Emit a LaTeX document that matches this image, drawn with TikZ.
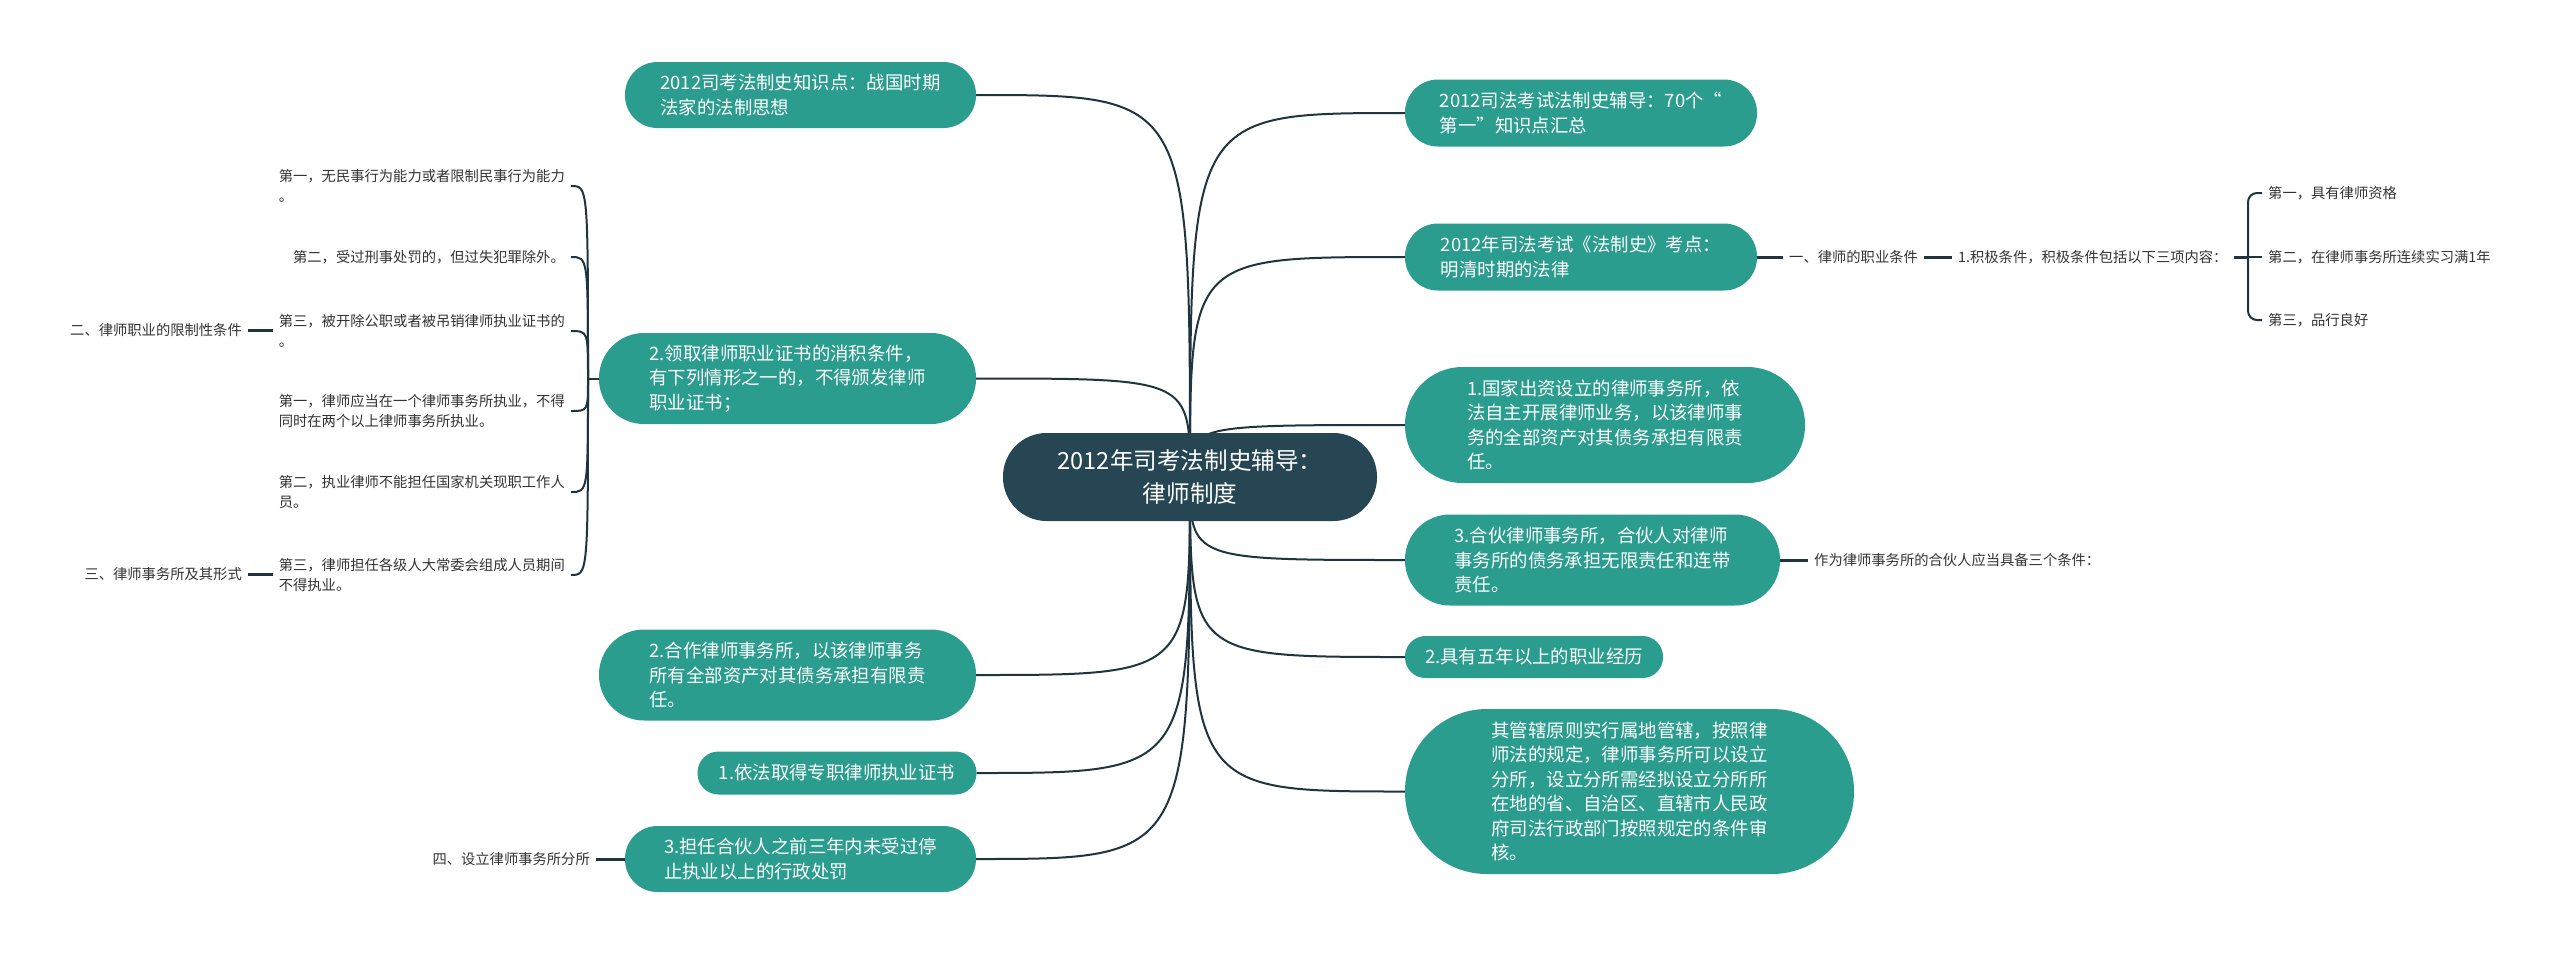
\documentclass[tikz,border=0pt]{standalone}
\usepackage{fontspec}
\setmainfont{Noto Sans CJK SC}
\usetikzlibrary{backgrounds}
\definecolor{teal1}{HTML}{2A9D8F}
\definecolor{dark1}{HTML}{264653}
\definecolor{line1}{HTML}{1E3540}
\definecolor{txt1}{HTML}{333333}
\begin{document}
\begin{tikzpicture}[x=1pt,y=-1pt,
  big/.style={fill=teal1,text=white,inner sep=0pt,align=left,font=\fontsize{18.4}{24.5}\selectfont},
  pill/.style n args={3}{minimum width=#1pt,minimum height=#2pt,rounded corners=#3pt},
  small/.style={text=txt1,inner xsep=6pt,inner ysep=0pt,align=left,font=\fontsize{14.3}{20}\selectfont},
  conn/.style={draw=line1,line width=2pt},
  stub/.style={draw=line1,line width=3pt}]
\useasboundingbox (0,0) rectangle (2560,954);

% central
\node[big,pill={374}{88}{43.5},fill=dark1,align=center,font=\fontsize{23.6}{33}\selectfont] (C) at (1190,477) {2012年司考法制史辅导：\\律师制度};

% left main nodes
\node[big,pill={351}{66}{32.5}] (L1) at (800.5,95) {2012司考法制史知识点：战国时期\\法家的法制思想};
\node[big,pill={377}{91}{45}] (L2) at (787.5,378.5) {2.领取律师职业证书的消积条件，\\有下列情形之一的，不得颁发律师\\职业证书；};
\node[big,pill={377}{91}{45}] (L3) at (787.5,675) {2.合作律师事务所，以该律师事务\\所有全部资产对其债务承担有限责\\任。};
\node[big,pill={279}{43}{21}] (L4) at (837,773) {1.依法取得专职律师执业证书};
\node[big,pill={351}{66}{32.5}] (L5) at (800.5,859) {3.担任合伙人之前三年内未受过停\\止执业以上的行政处罚};

% right main nodes
\node[big,pill={352}{67}{33}] (R1) at (1581,113) {2012司法考试法制史辅导：70个“\\第一”知识点汇总};
\node[big,pill={352}{67}{33}] (R2) at (1581,257) {2012年司法考试《法制史》考点：\\明清时期的法律};
\node[big,pill={400}{116}{57.5}] (R3) at (1605,425) {1.国家出资设立的律师事务所，依\\法自主开展律师业务，以该律师事\\务的全部资产对其债务承担有限责\\任。};
\node[big,pill={375}{91}{45}] (R4) at (1592.5,560) {3.合伙律师事务所，合伙人对律师\\事务所的债务承担无限责任和连带\\责任。};
\node[big,pill={258}{42}{20.5}] (R5) at (1534,657) {2.具有五年以上的职业经历};
\node[big,pill={449}{165}{82}] (R6) at (1629.5,791.5) {其管辖原则实行属地管辖，按照律\\师法的规定，律师事务所可以设立\\分所，设立分所需经拟设立分所所\\在地的省、自治区、直辖市人民政\\府司法行政部门按照规定的条件审\\核。};

% left small texts
\node[small,anchor=east] (a1) at (571,186) {第一，无民事行为能力或者限制民事行为能力\\。};
\node[small,anchor=east] (a2) at (571,257) {第二，受过刑事处罚的，但过失犯罪除外。};
\node[small,anchor=east] (a3) at (571,331) {第三，被开除公职或者被吊销律师执业证书的\\。};
\node[small,anchor=east] (a4) at (571,411) {第一，律师应当在一个律师事务所执业，不得\\同时在两个以上律师事务所执业。};
\node[small,anchor=east] (a5) at (571,492) {第二，执业律师不能担任国家机关现职工作人\\员。};
\node[small,anchor=east] (a6) at (571,575) {第三，律师担任各级人大常委会组成人员期间\\不得执业。};
\node[small,anchor=east] (b2) at (248,330) {二、律师职业的限制性条件};
\node[small,anchor=east] (b3) at (248,574) {三、律师事务所及其形式};
\node[small,anchor=east] (b4) at (596,859) {四、设立律师事务所分所};

% right small texts
\node[small,anchor=west] (t1) at (1783,257) {一、律师的职业条件};
\node[small,anchor=west] (t2) at (1952,257) {1.积极条件，积极条件包括以下三项内容：};
\node[small,anchor=west] (p1) at (2262,193) {第一，具有律师资格};
\node[small,anchor=west] (p2) at (2262,257) {第二，在律师事务所连续实习满1年};
\node[small,anchor=west] (p3) at (2262,320) {第三，品行良好};
\node[small,anchor=west] (t3) at (1808,560) {作为律师事务所的合伙人应当具备三个条件：};

% short stubs
\draw[stub] (R2.east) -- (t1.west);
\draw[stub] (t1.east) -- (t2.west);
\draw[stub] (R4.east) -- (t3.west);
\draw[stub] (b2.east) -- (b2.east -| a3.west);
\draw[stub] (b3.east) -- (b3.east -| a6.west);
\draw[stub] (b4.east) -- (L5.west);

% right bracket
\coordinate (sp) at (2248,257);
\draw[stub] (t2.east) -- (sp);
\draw[conn,rounded corners=9pt] (sp) |- (p1.west);
\draw[conn,rounded corners=9pt] (sp) |- (p3.west);
\draw[conn] (sp) -- (p2.west);

\begin{pgfonlayer}{background}
\fill[white] (0,0) rectangle (2560,954);
\foreach \n in {L1,L2,L3,L4,L5}
  \draw[conn] (C.center) .. controls (C.center |- \n.east) .. (\n.east);
\foreach \n in {R1,R2,R3,R4,R5,R6}
  \draw[conn] (C.center) .. controls (C.center |- \n.west) .. (\n.west);
% left bracket
\coordinate (ls) at (588,378.5);
\draw[conn] (L2.west) -- (ls);
\foreach \n in {a1,a2,a3,a4,a5,a6}
  \draw[conn] (ls) .. controls (ls |- \n.east) .. (\n.east);
\end{pgfonlayer}
\end{tikzpicture}
\end{document}
